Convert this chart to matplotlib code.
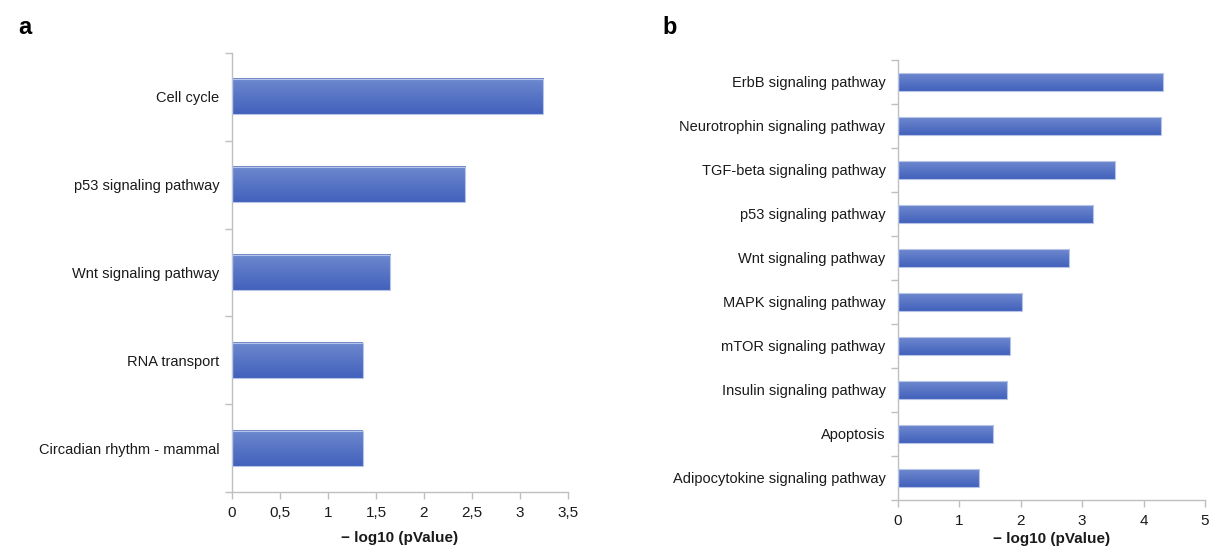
import matplotlib

matplotlib.use("Agg")

import matplotlib.pyplot as plt
import numpy as np
from matplotlib.ticker import FixedLocator, FuncFormatter

plt.rcParams["font.family"] = ["Liberation Sans", "DejaVu Sans"]

# panel a: top KEGG pathways
terms_a = [
    "Cell cycle",
    "p53 signaling pathway",
    "Wnt signaling pathway",
    "RNA transport",
    "Circadian rhythm - mammal",
]
scores_a = [3.24, 2.43, 1.65, 1.36, 1.36]
xticks_a = [0, 0.5, 1, 1.5, 2, 2.5, 3, 3.5]

# panel b: signalling pathways
terms_b = [
    "ErbB signaling pathway",
    "Neurotrophin signaling pathway",
    "TGF-beta signaling pathway",
    "p53 signaling pathway",
    "Wnt signaling pathway",
    "MAPK signaling pathway",
    "mTOR signaling pathway",
    "Insulin signaling pathway",
    "Apoptosis",
    "Adipocytokine signaling pathway",
]
scores_b = [4.32, 4.28, 3.53, 3.18, 2.79, 2.02, 1.82, 1.78, 1.55, 1.32]
xticks_b = [0, 1, 2, 3, 4, 5]

AXIS_GREY = "#BFBFBF"
TOP_BLUE = np.array([0x6E, 0x89, 0xCF]) / 255
BOTTOM_BLUE = np.array([0x42, 0x61, 0xBB]) / 255


def gradient_bars(ax, values, height=0.4):
    """Horizontal bars with a top-to-bottom blue gradient, Excel style."""
    grad = np.linspace(0, 1, 64)[:, None, None]
    rgb = TOP_BLUE * (1 - grad) + BOTTOM_BLUE * grad
    for i, v in enumerate(values):
        y0, y1 = i - height / 2, i + height / 2
        # y axis is inverted, so extent bottom/top are swapped to keep light on top
        ax.imshow(rgb, extent=[0, v, y1, y0], aspect="auto", zorder=2,
                  interpolation="bilinear")
        ax.add_patch(plt.Rectangle((0, y0), v, height, fill=False,
                                   edgecolor="#B7C4E8", linewidth=0.8, zorder=3))


def style_panel(ax, terms, values, xticks, xmax, comma=False, labelpad=8):
    n = len(terms)
    gradient_bars(ax, values)
    ax.set_xlim(0, xmax)
    ax.set_ylim(n - 0.5, -0.5)

    for side in ("top", "right"):
        ax.spines[side].set_visible(False)
    for side in ("left", "bottom"):
        ax.spines[side].set_color(AXIS_GREY)
        ax.spines[side].set_linewidth(1.0)

    # category labels sit at bar centres, tick marks at category boundaries
    ax.yaxis.set_major_locator(FixedLocator(np.arange(n + 1) - 0.5))
    ax.yaxis.set_minor_locator(FixedLocator(np.arange(n)))
    ax.yaxis.set_major_formatter(FuncFormatter(lambda v, p: ""))
    ax.set_yticklabels(terms, minor=True)
    ax.tick_params(axis="y", which="major", length=5, width=1.0, color=AXIS_GREY,
                   direction="out")
    ax.tick_params(axis="y", which="minor", length=0, pad=9, labelsize=10.5,
                   labelcolor="#1a1a1a")

    ax.set_xticks(xticks)
    if comma:
        ax.xaxis.set_major_formatter(
            FuncFormatter(lambda v, p: f"{v:g}".replace(".", ",")))
    ax.tick_params(axis="x", length=5, width=1.0, color=AXIS_GREY, pad=5,
                   labelsize=11, labelcolor="#1a1a1a")
    ax.set_xlabel("\u2212 log10 (pValue)", fontsize=11, fontweight="bold",
                  labelpad=labelpad, color="#1a1a1a")


fig = plt.figure(figsize=(12.11, 5.46), dpi=100)
W, H = 1211, 546

ax_a = fig.add_axes([232 / W, 1 - 492 / H, (568 - 232) / W, (492 - 53) / H])
ax_b = fig.add_axes([898 / W, 1 - 500 / H, (1205 - 898) / W, (500 - 60) / H])

style_panel(ax_a, terms_a, scores_a, xticks_a, 3.5, comma=True, labelpad=8)
style_panel(ax_b, terms_b, scores_b, xticks_b, 5, labelpad=3)

fig.text(18 / W, 1 - 28 / H, "a", fontsize=17, fontweight="bold", va="center")
fig.text(662 / W, 1 - 28 / H, "b", fontsize=17, fontweight="bold", va="center")

fig.savefig("out.png", dpi=100, facecolor="white")
